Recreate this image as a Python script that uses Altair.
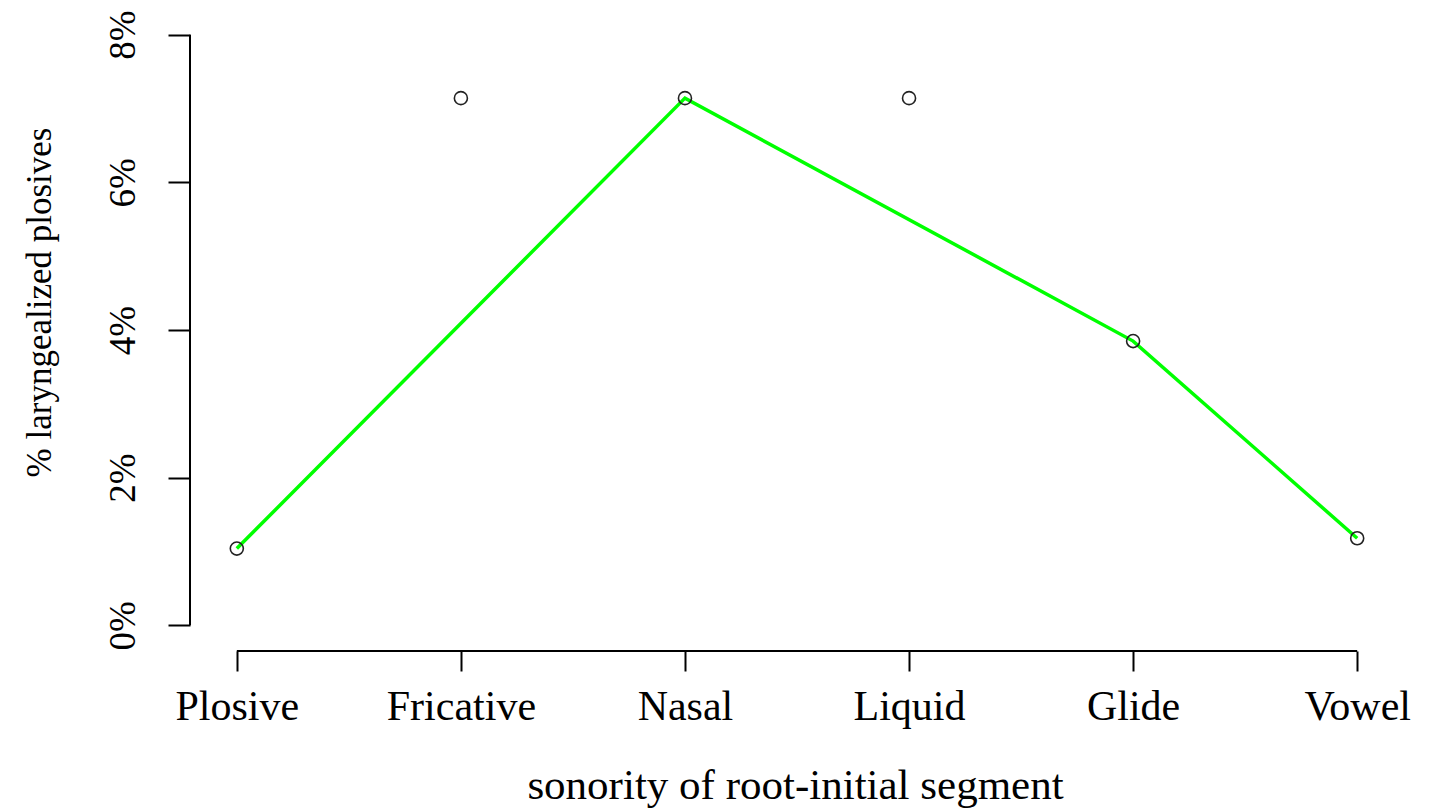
import altair as alt
import pandas as pd

categories = ["Plosive", "Fricative", "Nasal", "Liquid", "Glide", "Vowel"]
positions = [1, 2, 3, 4, 5, 6]
pct_laryngealized = [1.04, 7.14, 7.14, 7.14, 3.85, 1.18]
line_categories = ["Plosive", "Nasal", "Glide", "Vowel"]
y_ticks = [0, 2, 4, 6, 8]

df = pd.DataFrame({"cat": categories, "pos": positions, "pct": pct_laryngealized})
df["on_line"] = df["cat"].isin(line_categories)

FONT = "Liberation Serif"
label_expr = "[" + ",".join("'" + c + "'" for c in categories) + "][datum.value - 1]"

x_scale = alt.Scale(domain=[0.8, 6.2], nice=False, zero=False)
y_scale = alt.Scale(domain=[-0.32, 8.32], nice=False, zero=False)

x_enc = alt.X(
    "pos:Q",
    scale=x_scale,
    axis=alt.Axis(
        values=positions,
        labelExpr=label_expr,
        title="sonority of root-initial segment",
        domain=False,
        grid=False,
        offset=2,
        tickSize=20,
        tickWidth=2,
        tickColor="black",
        labelFont=FONT,
        labelFontSize=42,
        labelColor="black",
        labelBaseline="alphabetic",
        labelPadding=48,
        labelFlush=False,
        labelOverlap=False,
        titleFont=FONT,
        titleFontSize=43,
        titleFontWeight="normal",
        titleColor="black",
        titleBaseline="alphabetic",
        titleAlign="center",
        titleX=603,
        titleY=147,
    ),
)
y_enc = alt.Y(
    "pct:Q",
    scale=y_scale,
    axis=alt.Axis(
        values=y_ticks,
        labelExpr="datum.value + '%'",
        title="% laryngealized plosives",
        domain=False,
        grid=False,
        offset=2,
        tickSize=22,
        tickWidth=2,
        tickColor="black",
        labelFont=FONT,
        labelFontSize=37,
        labelColor="black",
        labelAngle=270,
        labelAlign="center",
        labelBaseline="alphabetic",
        labelPadding=34,
        labelFlush=False,
        labelOverlap=False,
        titleFont=FONT,
        titleFontSize=35,
        titleFontWeight="normal",
        titleColor="black",
        titleAngle=270,
        titleBaseline="alphabetic",
        titleAlign="center",
        titleX=-140,
        titleY=291,
    ),
)

base = alt.Chart(df)

green = base.transform_filter("datum.on_line").mark_line(
    color="#00ff00", strokeWidth=3.5
).encode(x=x_enc, y=y_enc)

pts = base.mark_point(
    shape="circle", filled=False, color="#222222", size=170, strokeWidth=1.6, opacity=1
).encode(x=x_enc, y=y_enc)

axis_df = pd.DataFrame({"xmin": [positions[0]], "xmax": [positions[-1]],
                        "ymin": [y_ticks[0]], "ymax": [y_ticks[-1]]})
yline = alt.Chart(axis_df).mark_rule(color="black", strokeWidth=2).encode(
    x=alt.value(-2),
    y=alt.Y("ymin:Q", scale=y_scale),
    y2="ymax:Q",
)
xline = alt.Chart(axis_df).mark_rule(color="black", strokeWidth=2).encode(
    x=alt.X("xmin:Q", scale=x_scale),
    x2="xmax:Q",
    y=alt.value(640),
)

chart = alt.layer(green, pts, yline, xline).properties(
    width=1210,
    height=638,
    background="white",
    autosize=alt.AutoSizeParams(type="none"),
    padding={"left": 184, "top": 3, "right": 20, "bottom": 160},
).configure_view(strokeOpacity=0, strokeWidth=0)

chart.save("out.html", embed_options={"renderer": "svg", "actions": False})
